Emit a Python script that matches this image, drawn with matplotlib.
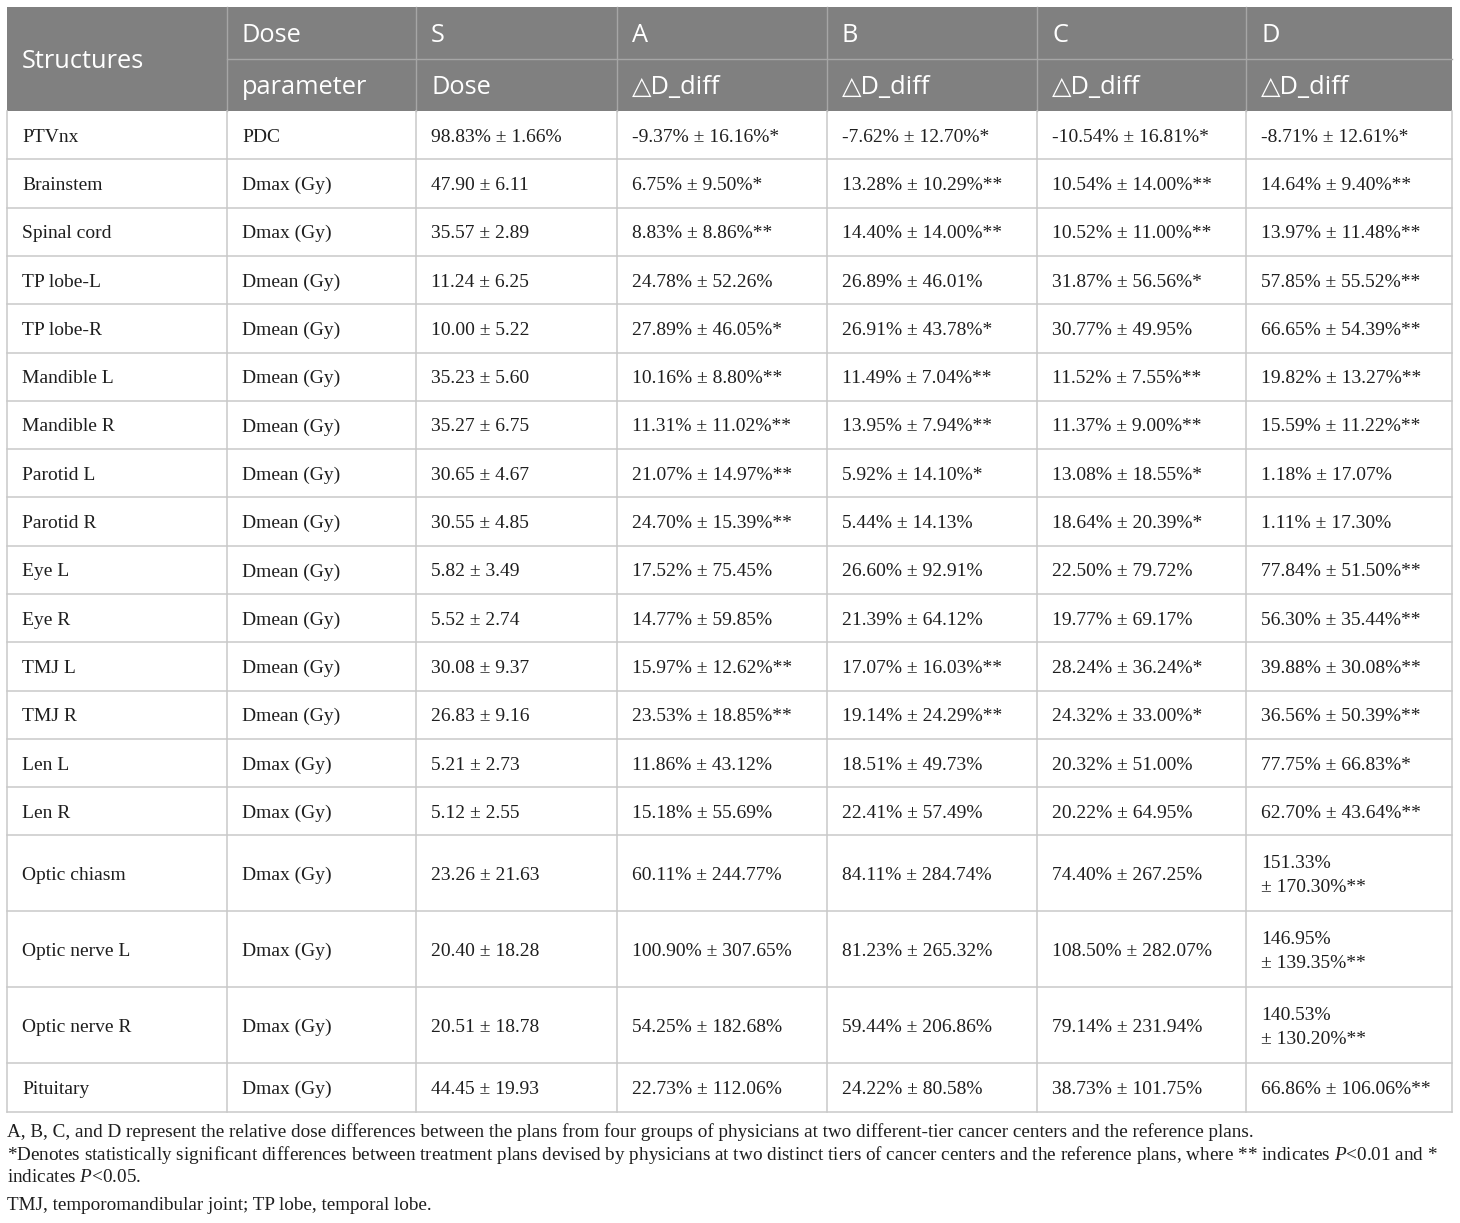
import matplotlib.pyplot as plt
from matplotlib.patches import Rectangle

plt.rcParams['mathtext.fontset'] = 'custom'
plt.rcParams['mathtext.rm'] = 'Liberation Serif'
plt.rcParams['mathtext.it'] = 'Liberation Serif:italic'

header_top = ["Structures", "Dose", "S", "A", "B", "C", "D"]
header_bot = ["", "parameter", "Dose", "△D_diff", "△D_diff", "△D_diff", "△D_diff"]

structures = ["PTVnx", "Brainstem", "Spinal cord", "TP lobe-L", "TP lobe-R",
              "Mandible L", "Mandible R", "Parotid L", "Parotid R", "Eye L",
              "Eye R", "TMJ L", "TMJ R", "Len L", "Len R", "Optic chiasm",
              "Optic nerve L", "Optic nerve R", "Pituitary"]
params = ["PDC", "Dmax (Gy)", "Dmax (Gy)", "Dmean (Gy)", "Dmean (Gy)",
          "Dmean (Gy)", "Dmean (Gy)", "Dmean (Gy)", "Dmean (Gy)", "Dmean (Gy)",
          "Dmean (Gy)", "Dmean (Gy)", "Dmean (Gy)", "Dmax (Gy)", "Dmax (Gy)",
          "Dmax (Gy)", "Dmax (Gy)", "Dmax (Gy)", "Dmax (Gy)"]
s_dose = ["98.83% ± 1.66%", "47.90 ± 6.11", "35.57 ± 2.89", "11.24 ± 6.25",
          "10.00 ± 5.22", "35.23 ± 5.60", "35.27 ± 6.75", "30.65 ± 4.67",
          "30.55 ± 4.85", "5.82 ± 3.49", "5.52 ± 2.74", "30.08 ± 9.37",
          "26.83 ± 9.16", "5.21 ± 2.73", "5.12 ± 2.55", "23.26 ± 21.63",
          "20.40 ± 18.28", "20.51 ± 18.78", "44.45 ± 19.93"]
a_diff = ["-9.37% ± 16.16%*", "6.75% ± 9.50%*", "8.83% ± 8.86%**",
          "24.78% ± 52.26%", "27.89% ± 46.05%*", "10.16% ± 8.80%**",
          "11.31% ± 11.02%**", "21.07% ± 14.97%**", "24.70% ± 15.39%**",
          "17.52% ± 75.45%", "14.77% ± 59.85%", "15.97% ± 12.62%**",
          "23.53% ± 18.85%**", "11.86% ± 43.12%", "15.18% ± 55.69%",
          "60.11% ± 244.77%", "100.90% ± 307.65%", "54.25% ± 182.68%",
          "22.73% ± 112.06%"]
b_diff = ["-7.62% ± 12.70%*", "13.28% ± 10.29%**", "14.40% ± 14.00%**",
          "26.89% ± 46.01%", "26.91% ± 43.78%*", "11.49% ± 7.04%**",
          "13.95% ± 7.94%**", "5.92% ± 14.10%*", "5.44% ± 14.13%",
          "26.60% ± 92.91%", "21.39% ± 64.12%", "17.07% ± 16.03%**",
          "19.14% ± 24.29%**", "18.51% ± 49.73%", "22.41% ± 57.49%",
          "84.11% ± 284.74%", "81.23% ± 265.32%", "59.44% ± 206.86%",
          "24.22% ± 80.58%"]
c_diff = ["-10.54% ± 16.81%*", "10.54% ± 14.00%**", "10.52% ± 11.00%**",
          "31.87% ± 56.56%*", "30.77% ± 49.95%", "11.52% ± 7.55%**",
          "11.37% ± 9.00%**", "13.08% ± 18.55%*", "18.64% ± 20.39%*",
          "22.50% ± 79.72%", "19.77% ± 69.17%", "28.24% ± 36.24%*",
          "24.32% ± 33.00%*", "20.32% ± 51.00%", "20.22% ± 64.95%",
          "74.40% ± 267.25%", "108.50% ± 282.07%", "79.14% ± 231.94%",
          "38.73% ± 101.75%"]
d_diff = ["-8.71% ± 12.61%*", "14.64% ± 9.40%**", "13.97% ± 11.48%**",
          "57.85% ± 55.52%**", "66.65% ± 54.39%**", "19.82% ± 13.27%**",
          "15.59% ± 11.22%**", "1.18% ± 17.07%", "1.11% ± 17.30%",
          "77.84% ± 51.50%**", "56.30% ± 35.44%**", "39.88% ± 30.08%**",
          "36.56% ± 50.39%**", "77.75% ± 66.83%*", "62.70% ± 43.64%**",
          "151.33%\n± 170.30%**", "146.95%\n± 139.35%**", "140.53%\n± 130.20%**",
          "66.86% ± 106.06%**"]

footnotes = [
    "A, B, C, and D represent the relative dose differences between the plans from four groups of physicians at two different-tier cancer centers and the reference plans.",
    "*Denotes statistically significant differences between treatment plans devised by physicians at two distinct tiers of cancer centers and the reference plans, where ** indicates $\\mathit{P}$<0.01 and *",
    "indicates $\\mathit{P}$<0.05.",
    "TMJ, temporomandibular joint; TP lobe, temporal lobe.",
]

columns = [structures, params, s_dose, a_diff, b_diff, c_diff, d_diff]

# layout (pixels)
col_edges = [7, 227, 416, 617, 827, 1037, 1246, 1452]
top, head_mid, head_bot = 7, 59, 111
single_h, double_h = 48.3, 76
pad = 15
header_gray = "#808080"
line_gray = "#c9c9c9"

fig = plt.figure(figsize=(14.6, 12.23), dpi=100)
ax = fig.add_axes([0, 0, 1, 1])
ax.set_xlim(0, 1460)
ax.set_ylim(1223, 0)
ax.axis('off')

head_font = dict(family=['Open Sans', 'DejaVu Sans'], fontsize=18.3, color='white')
body_font = dict(family=['Liberation Serif', 'DejaVu Serif'], fontsize=14, color='#1e1e1e')

# header
ax.add_patch(Rectangle((col_edges[0], top), col_edges[-1] - col_edges[0], head_bot - top,
                       facecolor=header_gray, edgecolor='none'))
ax.plot([col_edges[1], col_edges[-1]], [head_mid, head_mid], color='#a6a6a6', lw=1)
for x in col_edges[1:-1]:
    ax.plot([x, x], [top, head_bot], color='#a6a6a6', lw=1)
ax.text(col_edges[0] + pad, head_mid + 2, header_top[0], va='center', ha='left', **head_font)
for i in range(1, 7):
    x = col_edges[i] + pad
    ax.text(x, (top + head_mid) / 2 + 3, header_top[i], va='center', ha='left', **head_font)
    ax.text(x, (head_mid + head_bot) / 2 + 3, header_bot[i], va='center', ha='left', **head_font)

# body
y = head_bot
row_edges = [y]
for r in range(len(structures)):
    h = double_h if any("\n" in col[r] for col in columns) else single_h
    yc = y + h / 2 + 2
    for c, col in enumerate(columns):
        ax.text(col_edges[c] + pad, yc, col[r], va='center', ha='left',
                linespacing=1.5, **body_font)
    y += h
    row_edges.append(y)

for ye in row_edges[1:]:
    ax.plot([col_edges[0], col_edges[-1]], [ye, ye], color=line_gray, lw=1.1)
for x in col_edges:
    ax.plot([x, x], [head_bot, row_edges[-1]], color=line_gray, lw=1.1)

# footnotes
foot_y = [1132, 1155, 1178, 1205]
for fy, txt in zip(foot_y, footnotes):
    ax.text(col_edges[0], fy, txt, va='center', ha='left',
            family=['Liberation Serif', 'DejaVu Serif'], fontsize=13.8, color='#1e1e1e')

fig.savefig("out.png", dpi=100)
